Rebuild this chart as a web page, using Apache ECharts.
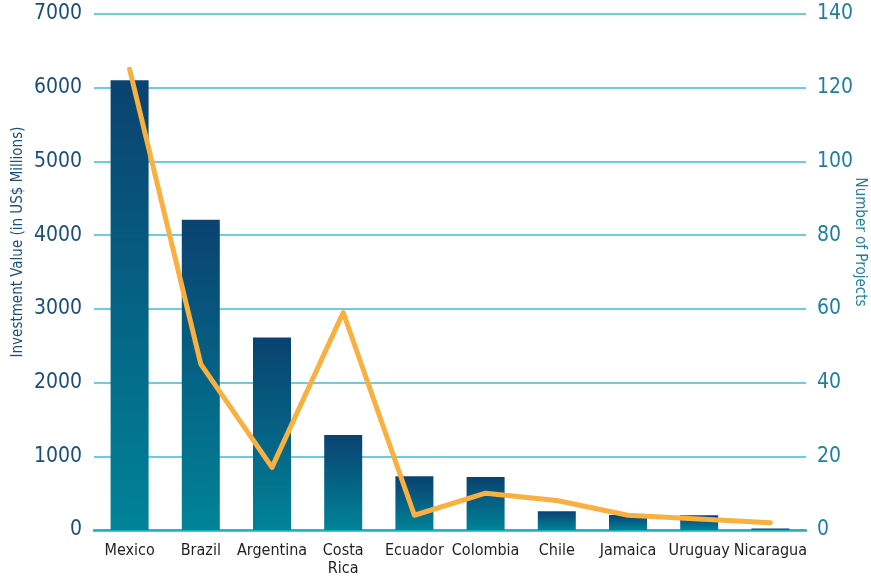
<!DOCTYPE html>
<html><head><meta charset="utf-8">
<script src="https://cdn.jsdelivr.net/npm/echarts@6/dist/echarts.min.js"></script>
<style>html,body{margin:0;padding:0;background:#fff}#c{width:871px;height:586px}</style>
</head><body><div id="c"></div>
<script>
const categories = ["Mexico","Brazil","Argentina","Costa\nRica","Ecuador","Colombia","Chile","Jamaica","Uruguay","Nicaragua"];
const investmentValues = [6100, 4210, 2610, 1290, 730, 720, 255, 205, 200, 20];
const projectCounts = [125, 45, 17, 59, 4, 10, 8, 4, 3, 2];
const leftTicks = {min: 0, max: 7000, interval: 1000};
const rightTicks = {min: 0, max: 140, interval: 20};
const FONT = '"DejaVu Sans Condensed","Liberation Sans Narrow",sans-serif';
const chart = echarts.init(document.getElementById('c'));
chart.setOption({
  animation: false,
  grid: {left: 94, right: 65, top: 14, bottom: 56, containLabel: false, outerBoundsMode: 'none'},
  xAxis: {
    type: 'category', data: categories,
    axisLine: {show: true, lineStyle: {color: '#1AB0CC', width: 2.5}},
    axisTick: {show: false},
    axisLabel: {color: '#231F20', fontFamily: FONT, fontSize: 16, margin: 12, lineHeight: 18, interval: 0}
  },
  yAxis: [{
    type: 'value', min: leftTicks.min, max: leftTicks.max, interval: leftTicks.interval,
    name: 'Investment Value (in US$ Millions)', nameLocation: 'middle', nameRotate: 90, nameGap: 76,
    nameMoveOverlap: false,
    nameTextStyle: {color: '#1B4F7A', fontFamily: FONT, fontSize: 15, padding: [0, 0, 0, 60], verticalAlign: 'middle'},
    axisLine: {show: false}, axisTick: {show: false},
    axisLabel: {color: '#1B4F7A', fontFamily: FONT, fontSize: 21, margin: 12, formatter: v => String(v)},
    splitLine: {lineStyle: {color: '#3BBCD4', width: 1.5}}
  }, {
    type: 'value', min: rightTicks.min, max: rightTicks.max, interval: rightTicks.interval,
    position: 'right',
    name: 'Number of Projects', nameLocation: 'middle', nameRotate: -90, nameGap: 54,
    nameMoveOverlap: false,
    nameTextStyle: {color: '#1F7FA0', fontFamily: FONT, fontSize: 15, padding: [0, 60, 0, 0], verticalAlign: 'middle'},
    axisLine: {show: false}, axisTick: {show: false},
    axisLabel: {color: '#1F7FA0', fontFamily: FONT, fontSize: 21, margin: 11, formatter: v => String(v)},
    splitLine: {show: false}
  }],
  series: [{
    type: 'bar', data: investmentValues, barWidth: 38, yAxisIndex: 0,
    itemStyle: {color: new echarts.graphic.LinearGradient(0, 0, 0, 1, [
      {offset: 0, color: '#0A4270'}, {offset: 1, color: '#008398'}])}
  }, {
    type: 'line', data: projectCounts, yAxisIndex: 1, symbol: 'none', smooth: false,
    lineStyle: {color: '#F9B040', width: 5, cap: 'round', join: 'round'}
  }]
});
</script></body></html>
